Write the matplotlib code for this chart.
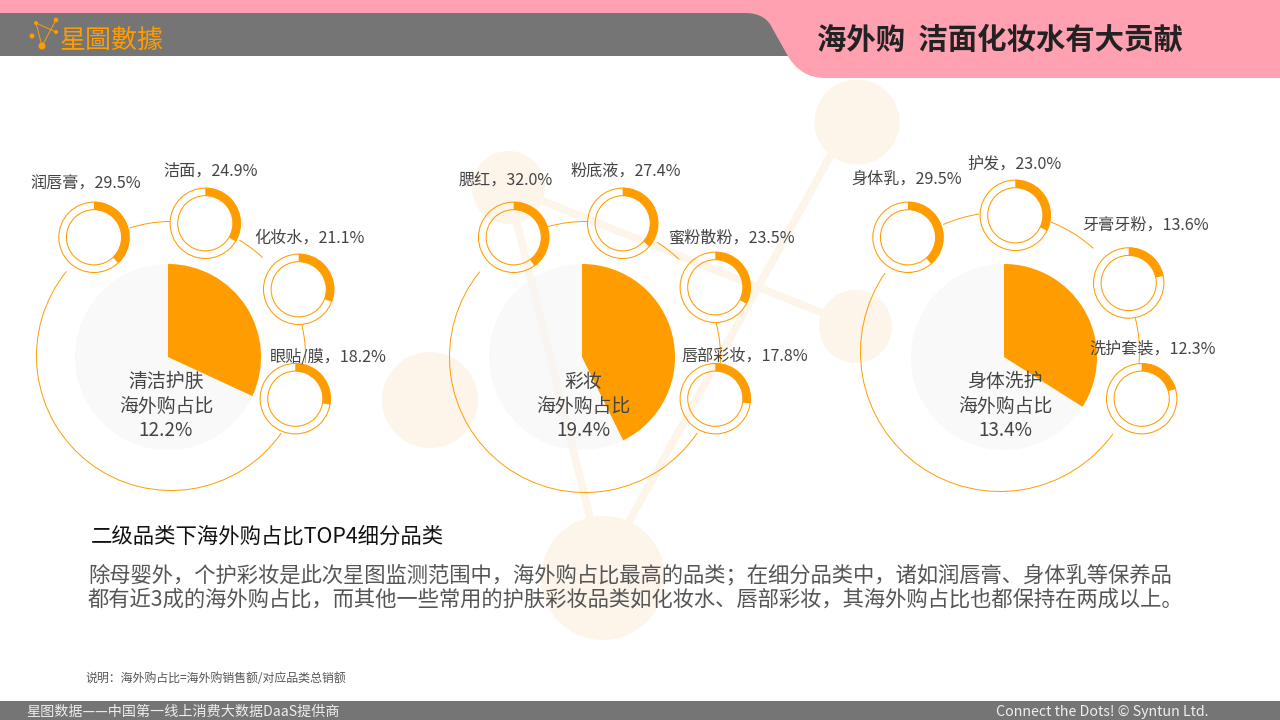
import matplotlib
matplotlib.use('Agg')
import matplotlib.pyplot as plt
from matplotlib.patches import Arc, Circle, PathPatch, Rectangle
from matplotlib.path import Path

plt.rcParams['font.family'] = ['Noto Sans CJK SC', 'DejaVu Sans']

ORANGE = '#ff9c00'
PINK = '#ffa1b1'
GRAY = '#757575'
CREAM = '#fdf4ea'

# data
categories = ['清洁护肤', '彩妆', '身体洗护']
overseas_share = ['12.2%', '19.4%', '13.4%']
# the slices are not drawn to the printed value, these are read off the picture
main_drawn = [31.9, 42.7, 34.0]

sub_names = [['润唇膏', '洁面', '化妆水', '眼贴/膜'],
             ['腮红', '粉底液', '蜜粉散粉', '唇部彩妆'],
             ['身体乳', '护发', '牙膏牙粉', '洗护套装']]
sub_labels = [['29.5%', '24.9%', '21.1%', '18.2%'],
              ['32.0%', '27.4%', '23.5%', '17.8%'],
              ['29.5%', '23.0%', '13.6%', '12.3%']]
sub_drawn = [[38.0, 33.6, 30.8, 27.7],
             [40.0, 36.4, 32.7, 27.2],
             [38.6, 32.2, 21.8, 20.6]]

# layout, in pixels from the top left
main_centers = [(168, 357), (582, 357), (1004, 357)]
orbit = [(171, 356, 134.5), (585, 357, 135.5), (1000, 352, 139.5)]
orbit_arcs = [[(141, 325), (90.4, 108), (47, 59.5), (-3, 13)],
              [(141, 326), (88.7, 106), (46, 58), (-2.5, 14.4)],
              [(145.5, 324), (98.6, 114), (48, 68.7), (-4.5, 14)]]
ring_centers = [[(94, 237.3), (205.3, 223.3), (298.7, 289.3), (295.3, 398.7)],
                [(513.7, 237.3), (622.7, 223.3), (715.3, 287.3), (715.3, 398.7)],
                [(908, 237.3), (1015.3, 215.3), (1128.7, 283), (1141.7, 398.7)]]
label_pos = [[(30, 184), (163, 171.5), (254, 238), (269.5, 356.5)],
             [(458.5, 180), (570, 171.5), (669, 238), (681, 356.5)],
             [(851, 179), (967, 164.5), (1082, 225), (1089, 349.5)]]

bg_circles = [(857, 122, 42.5), (508.5, 187.5, 36.5), (855.5, 326.5, 36.5), (430, 400, 48), (603, 578, 62)]
bg_lines = [((508, 187), (855, 326)), ((508, 187), (605, 578)), ((849, 122), (598, 578))]

logo_dots = [(36, 23, 2), (56, 20, 2.3), (56, 32, 2), (32, 36, 2.5), (42, 46, 3.5)]
logo_lines = [((36, 23), (42, 46)), ((36, 23), (56, 32)), ((56, 20), (42, 46))]


def Y(py):
    return 720 - py


fig = plt.figure(figsize=(12.8, 7.2), dpi=100)
ax = fig.add_axes([0, 0, 1, 1])

# faint network in the background
for a, b in bg_lines:
    ax.plot([a[0], b[0]], [Y(a[1]), Y(b[1])], color=CREAM, lw=5.5, solid_capstyle='butt', zorder=1)
for x, y, r in bg_circles:
    ax.add_patch(Circle((x, Y(y)), r, fc=CREAM, ec='none', zorder=1))

# header
ax.add_patch(Rectangle((0, Y(56)), 800, 43, fc=GRAY, ec='none', zorder=2))
verts = [(0, 0), (1280, 0), (1280, 78), (825, 78), (808, 78), (797, 70), (789, 58),
         (770, 24), (765, 17), (757, 13), (745, 13), (0, 13), (0, 0)]
codes = [Path.MOVETO, Path.LINETO, Path.LINETO, Path.LINETO, Path.CURVE4, Path.CURVE4, Path.CURVE4,
         Path.LINETO, Path.CURVE4, Path.CURVE4, Path.CURVE4, Path.LINETO, Path.CLOSEPOLY]
ax.add_patch(PathPatch(Path([(x, Y(y)) for x, y in verts], codes), fc=PINK, ec='none', zorder=3))
ax.text(1000, Y(40), '海外购  洁面化妆水有大贡献', fontsize=21.2, fontweight='bold', color='#222222',
        ha='center', va='center', zorder=4)

# logo
for a, b in logo_lines:
    ax.plot([a[0], b[0]], [Y(a[1]), Y(b[1])], color=ORANGE, lw=0.7, zorder=4)
for x, y, r in logo_dots:
    ax.add_patch(Circle((x, Y(y)), r, fc=ORANGE, ec='none', zorder=4))
ax.text(60, Y(40), '星圖數據', fontsize=18.7, color=ORANGE, family='Noto Sans CJK TC',
        ha='left', va='center', zorder=4)

# the three panels
for i in range(3):
    cx, cy = main_centers[i]
    ax.add_patch(Circle((cx, Y(cy)), 93, fc='#f5f5f5', ec='none', alpha=0.6, zorder=2))
    ax.pie([main_drawn[i], 100 - main_drawn[i]], colors=[ORANGE, 'none'], startangle=90, counterclock=False,
           center=(cx, Y(cy)), radius=93, wedgeprops={'linewidth': 0, 'zorder': 3})

    ox, oy, orad = orbit[i]
    for t1, t2 in orbit_arcs[i]:
        ax.add_patch(Arc((ox, Y(oy)), 2 * orad, 2 * orad, theta1=t1, theta2=t2, color=ORANGE, lw=0.7, zorder=3))

    for j in range(4):
        rx, ry = ring_centers[i][j]
        ax.pie([sub_drawn[i][j], 100 - sub_drawn[i][j]], colors=[ORANGE, 'none'], startangle=90, counterclock=False,
               center=(rx, Y(ry)), radius=35.5, wedgeprops={'width': 8, 'linewidth': 0, 'zorder': 3})
        ax.add_patch(Circle((rx, Y(ry)), 35.2, fc='none', ec=ORANGE, lw=0.75, zorder=3))
        ax.add_patch(Circle((rx, Y(ry)), 27.6, fc='none', ec=ORANGE, lw=0.75, zorder=3))
        lx, ly = label_pos[i][j]
        ax.text(lx, Y(ly), sub_names[i][j] + '，' + sub_labels[i][j], fontsize=11.6, color='#444444',
                ha='left', va='center', zorder=5)

    ax.text(cx - 2 if i == 0 else cx + 1, Y(406), categories[i] + '\n海外购占比\n' + overseas_share[i],
            fontsize=13.6, color='#444444', ha='center', va='center', linespacing=1.2, zorder=5)

# text under the charts
ax.text(91, Y(537), '二级品类下海外购占比TOP4细分品类', fontsize=15.4, color='#111111', ha='left', va='center', zorder=5)
ax.text(88, Y(575), '除母婴外，个护彩妆是此次星图监测范围中，海外购占比最高的品类；在细分品类中，诸如润唇膏、身体乳等保养品',
        fontsize=15.35, color='#555555', ha='left', va='center', zorder=5)
ax.text(88, Y(599), '都有近3成的海外购占比，而其他一些常用的护肤彩妆品类如化妆水、唇部彩妆，其海外购占比也都保持在两成以上。',
        fontsize=15.35, color='#555555', ha='left', va='center', zorder=5)
ax.text(85, Y(678), '说明：海外购占比=海外购销售额/对应品类总销额', fontsize=8.6, color='#555555', ha='left', va='center', zorder=5)

# footer
ax.add_patch(Rectangle((0, 0), 1280, 19, fc=GRAY, ec='none', zorder=2))
ax.text(26, Y(712), '星图数据——中国第一线上消费大数据DaaS提供商', fontsize=10.15, color='#eeeeee', ha='left', va='center', zorder=5)
ax.text(996, Y(712), 'Connect the Dots! © Syntun Ltd.', fontsize=10.25, color='#eeeeee', ha='left', va='center', zorder=5)

ax.set_xlim(0, 1280)
ax.set_ylim(0, 720)
ax.set_aspect('auto')
ax.axis('off')

fig.savefig('out.png', dpi=100)
